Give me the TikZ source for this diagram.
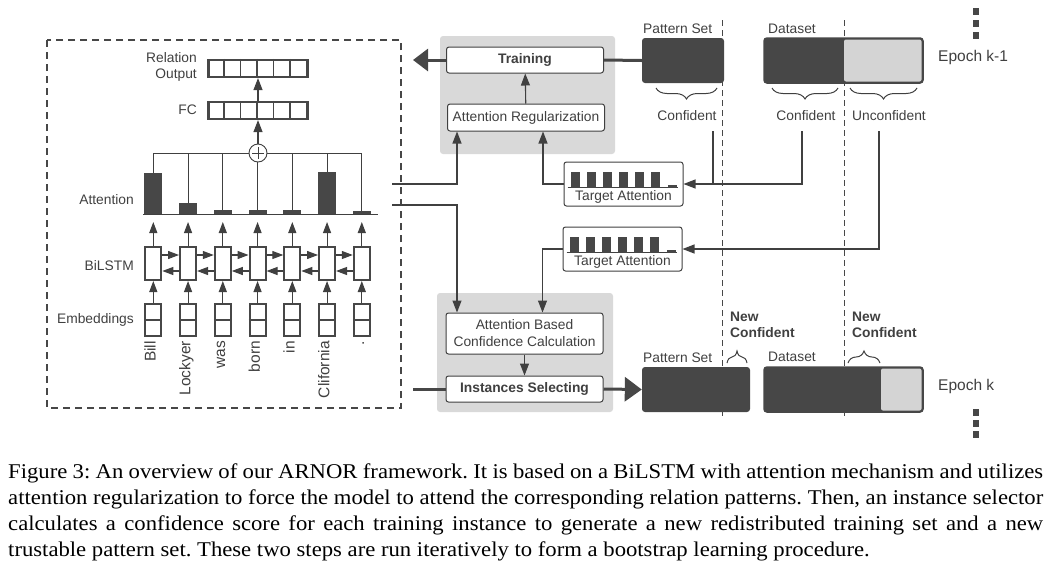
\documentclass[tikz,border=0pt]{standalone}
\usepackage{fontspec}
\setmainfont{Liberation Serif}
\setsansfont{Liberation Sans}
\newfontfamily\capfont[FakeStretch=1.08]{Liberation Serif}
\usepackage{tikz}
\usetikzlibrary{arrows,arrows.meta,positioning,decorations.pathreplacing}
\definecolor{dk}{HTML}{474747}
\definecolor{ln}{HTML}{404040}
\definecolor{pane}{HTML}{D9D9D9}
\definecolor{lite}{HTML}{D4D4D4}
\tikzstyle{dashframe}=[draw=dk, line width=2.3pt, dash pattern=on 7pt off 5pt]
\tikzstyle{vec}=[draw=dk, line width=2.2pt, minimum width=99pt, minimum height=17pt, inner sep=0pt]
\tikzstyle{rnn}=[draw=dk, line width=2pt, fill=white, minimum width=16pt, minimum height=33pt, inner sep=0pt]
\tikzstyle{emb}=[draw=dk, line width=2pt, minimum width=16pt, minimum height=32pt, inner sep=0pt]
\tikzstyle{bar}=[fill=dk, minimum width=18pt, inner sep=0pt]
\tikzstyle{sum}=[circle, draw=ln, fill=white, line width=0.9pt, minimum size=18pt, inner sep=0pt]
\tikzstyle{lbl}=[text=ln, font=\sffamily\fontsize{13.8}{16}\selectfont, inner sep=0pt]
\tikzstyle{word}=[text=ln, font=\sffamily\fontsize{15.5}{17}\selectfont, inner sep=0pt]
\tikzstyle{procbox}=[draw=ln, fill=white, rounded corners=2.5pt, line width=1pt, minimum width=157pt, minimum height=26pt, inner sep=0pt, align=center, lbl]
\tikzstyle{tabox}=[draw=ln, fill=white, rounded corners=2.5pt, line width=1pt, minimum width=119pt, minimum height=44pt]
\tikzstyle{setbox}=[fill=dk, rounded corners=3pt, minimum height=45pt, inner sep=0pt]
\tikzstyle{conn}=[draw=ln, line width=1.1pt]
\tikzstyle{arr}=[conn, -{Triangle[length=12pt,width=9pt]}]
\tikzstyle{sarr}=[conn, -{Triangle[length=11pt,width=8pt]}]
\tikzstyle{thickline}=[draw=dk, line width=3pt]
\tikzstyle{bigarr}=[thickline, -{Triangle[length=15pt,width=22pt]}]
\tikzstyle{epochsep}=[draw=dk, line width=0.9pt, dash pattern=on 6pt off 4pt]
\tikzstyle{brc}=[draw=ln, line width=1pt, decorate]
\tikzstyle{epoch}=[text=ln, font=\sffamily\fontsize{15.5}{18}\selectfont, inner sep=0pt]
\tikzstyle{captext}=[font=\capfont\fontsize{21}{26}\selectfont\frenchspacing, text width=1035pt, align=justify, inner sep=0pt]

\begin{document}
\begin{tikzpicture}[x=1pt, y=-1pt]
\useasboundingbox (0,0) rectangle (1051,571);

% gray panels
\fill[pane, rounded corners=3pt] (440,36) rectangle (615,154);
\fill[pane, rounded corners=3pt] (437,293) rectangle (613,412);

% epoch separators
\draw[epochsep] (722,20) -- (722,418);
\draw[epochsep] (844,20) -- (844,418);

% model
\draw[dashframe] (47,40) rectangle (401,408);
\node[vec] (ro) at (258,68.5) {};
\node[vec] (fc) at (258,110.5) {};
\foreach \v in {ro,fc}
  \foreach \k in {1,...,5}
    \draw[dk, line width=1.6pt] ([xshift={16.5*\k}]\v.north west) -- ([xshift={16.5*\k}]\v.south west);
\node[lbl, align=right, anchor=east] (rol) at (197,67) {Relation\\Output};
\node[lbl, anchor=east] (fcl) at (197,110) {FC};
\node[lbl, anchor=east] (attl) at (134,200) {Attention};
\node[lbl, anchor=east] (lstml) at (134,266) {BiLSTM};
\node[lbl, anchor=east] (embl) at (134,320) {Embeddings};

\foreach \w/\h [count=\i from 0] in {Bill/41,Lockyer/11,was/4,born/4,in/4,Clifornia/42,./3} {
  \pgfmathsetmacro\x{153.3+34.75*\i}
  \node[emb] (e\i) at (\x,320) {};
  \draw[dk, line width=1.6pt] (e\i.west) -- (e\i.east);
  \node[rnn] (r\i) at (\x,263.5) {};
  \node[bar, minimum height=\h, anchor=south] (b\i) at (\x,214) {};
  \node[word, rotate=90, anchor=mid east] (w\i) at (\x,341) {\w};
  \draw[sarr] (e\i) -- (r\i);
  \draw[sarr, shorten >=8pt] (r\i) -- (b\i.south);
  \draw[conn, line width=1pt] (b\i.north) -- (\x,153);
}
\foreach \i in {0,...,5} {
  \pgfmathtruncatemacro\j{\i+1}
  \draw[sarr] ([yshift=8.5]r\i.east) -- ([yshift=8.5]r\j.west);
  \draw[sarr] ([yshift=-7.5]r\j.west) -- ([yshift=-7.5]r\i.east);
}
\draw[conn, line width=1pt] ([xshift=-10]b0.south) -- ([xshift=16]b6.south);
\draw[conn, line width=1pt] (b0.north |- 0,153) -- (b6.north |- 0,153);
\node[sum] (plus) at (258,153) {};
\draw[conn, line width=0.8pt] ([yshift=6]plus.center) -- ([yshift=-6]plus.center);
\draw[conn, line width=0.8pt] ([xshift=-6]plus.center) -- ([xshift=6]plus.center);
\draw[arr] (plus) -- (fc);
\draw[arr] (fc) -- (ro);

% training and selection
\node[procbox, font=\sffamily\bfseries\fontsize{13.8}{16}\selectfont] (tr) at (525,60) {Training};
\node[procbox, minimum height=27pt] (ar) at (526,117.5) {Attention Regularization};
\draw[arr] (ar) -- (tr);
\node[procbox, minimum height=41pt, font=\sffamily\fontsize{13.8}{17}\selectfont] (abc) at (524.5,333.5) {Attention Based\\Confidence Calculation};
\node[procbox, font=\sffamily\bfseries\fontsize{13.8}{16}\selectfont] (sel) at (524.5,389) {Instances Selecting};
\draw[arr] (abc) -- (sel);

% target attention
\node[tabox] (ta1) at (623.5,184) {};
\node[tabox] (ta2) at (622.5,249) {};
\foreach \ta in {ta1,ta2} {
  \draw[conn, line width=1pt] ([xshift=4, yshift=19]\ta.south west) -- ([xshift=114, yshift=19]\ta.south west);
  \foreach \k in {0,...,5}
    \fill[dk] ([xshift={7+16*\k}, yshift=19]\ta.south west) rectangle ++(9,-16);
  \fill[dk] ([xshift=104, yshift=19]\ta.south west) rectangle ++(9,-3);
  \node[lbl] at ([yshift=10]\ta.south) {Target Attention};
}

% pattern sets and datasets
\node[setbox, minimum width=82pt] (ps1) at (683,60.5) {};
\node[lbl, anchor=base west] (ps1l) at (643,33) {Pattern Set};
\node[setbox, minimum width=159pt, draw=dk, line width=1.5pt] (ds1) at (843.5,60.5) {};
\fill[lite, rounded corners=2pt] (844,39.5) rectangle (921.5,81.5);
\node[lbl, anchor=base west] (ds1l) at (768,33) {Dataset};
\node[epoch, anchor=west] (ep1) at (938,57) {Epoch k-1};

\node[setbox, minimum width=108pt] (ps2) at (696,389.5) {};
\node[lbl, anchor=base west] (ps2l) at (643,362) {Pattern Set};
\node[setbox, minimum width=159pt, draw=dk, line width=1.5pt] (ds2) at (843.5,389.5) {};
\fill[lite, rounded corners=2pt] (881,368.5) rectangle (921.5,410.5);
\node[lbl, anchor=base west] (ds2l) at (768,361) {Dataset};
\node[epoch, anchor=west] (ep2) at (938,386) {Epoch k};

\foreach \y in {11,23,35,412,423,434}
  \fill[dk] (972.5,\y-3) rectangle ++(6.5,6.5);

% braces
\draw[brc, decoration={brace, mirror, amplitude=11pt}] (656,88) -- (717,88);
\draw[brc, decoration={brace, mirror, amplitude=11pt}] (772,88) -- (838,88);
\draw[brc, decoration={brace, mirror, amplitude=11pt}] (850,88) -- (917,88);
\node[lbl] (cf1) at (687,116) {Confident};
\node[lbl] (cf2) at (806,116) {Confident};
\node[lbl] (uc) at (889,116) {Unconfident};
\draw[brc, decoration={brace, amplitude=12pt}] (727,363) -- (747,363);
\draw[brc, decoration={brace, amplitude=12pt}] (848,363) -- (880,363);
\node[lbl, font=\sffamily\bfseries\fontsize{13.8}{16}\selectfont, align=left, anchor=north west] (nc1) at (730,312) {New\\Confident};
\node[lbl, font=\sffamily\bfseries\fontsize{13.8}{16}\selectfont, align=left, anchor=north west] (nc2) at (852,312) {New\\Confident};

% connectors
\coordinate (cpt) at (713,131);
\coordinate (cds) at (802,131);
\coordinate (cun) at (879,131);
\draw[conn] (cpt) -- (cpt |- ta1.east);
\draw[arr] (cds) |- (ta1.east);
\draw[arr] (cun) |- (ta2.east);
\draw[arr] (ta1.west) -| ([xshift=17]ar.south);
\draw[arr] (ta2.west) -| ([xshift=18]abc.north);
\coordinate (att1) at (392,184);
\coordinate (att2) at (392,205);
\draw[arr] (att1) -| ([xshift=-69]ar.south);
\draw[arr] (att2) -| ([xshift=-67.5]abc.north);
\coordinate (mdlin) at (413,60);
\coordinate (mdlout) at (413,389);
\draw[bigarr] (tr.west) -- (mdlin);
\draw[thickline] (tr.east) -- (ps1.west);
\draw[thickline] (mdlout) -- (sel.west);
\draw[thickline, -{Triangle[length=17pt,width=24pt]}] (sel.east) -- (ps2.west);

% caption
\node[captext, anchor=north west] (caption) at (8,464) {Figure 3: An overview of our ARNOR framework. It is based on a BiLSTM with attention mechanism and utilizes\linebreak attention regularization to force the model to attend the corresponding relation patterns. Then, an instance selector\linebreak calculates a confidence score for each training instance to generate a new redistributed training set and a new\linebreak trustable pattern set. These two steps are run iteratively to form a bootstrap learning procedure.};
\end{tikzpicture}
\end{document}
